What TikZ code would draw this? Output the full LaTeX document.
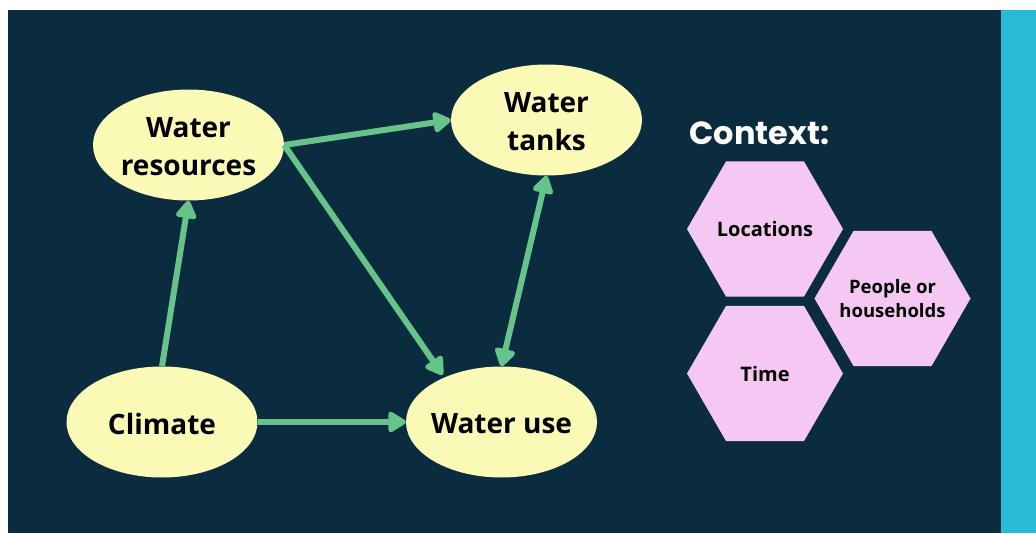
\documentclass[tikz,border=0pt]{standalone}
\usepackage{fontspec}
\setmainfont{Open Sans}
\newfontfamily\ctxfont{Poppins}
\usetikzlibrary{arrows.meta,shapes.geometric}
\definecolor{navy}{HTML}{0B2C3E}
\definecolor{cyanbar}{HTML}{29BBD6}
\definecolor{paleyellow}{HTML}{FAF9B5}
\definecolor{pinkhex}{HTML}{F4C8F2}
\definecolor{arrowgreen}{HTML}{66C38A}
\tikzset{
  topic/.style={ellipse, fill=paleyellow, minimum width=191pt, minimum height=111pt,
    inner sep=0pt},
  topictext/.style={align=center, text=black, inner sep=0pt, yshift=-2pt, font=\fontsize{28}{38}\selectfont\bfseries},
  ctxhex/.style={regular polygon, regular polygon sides=6, fill=pinkhex, minimum size=156pt,
    inner sep=0pt},
  hextext/.style={align=center, text=black, inner sep=0pt},
  link/.style={arrowgreen, line width=6pt, -{Triangle[length=20pt,width=23pt,round]}},
  biglink/.style={arrowgreen, line width=6pt, {Triangle[length=20pt,width=23pt,round]}-{Triangle[length=20pt,width=23pt,round]}}
}
\begin{document}
\begin{tikzpicture}[x=1pt,y=-1pt]
\useasboundingbox (0,0) rectangle (1036,533);
\fill[white] (0,0) rectangle (1036,533);
\fill[navy] (8,10) rectangle (1001,533);
\fill[cyanbar] (1001,10) rectangle (1036,533);

\node[topic] (wr) at (188.5,145) {};
\node[topic] (wt) at (546.5,120) {};
\node[topic] (cl) at (162,422) {};
\node[topic] (wu) at (501.5,422) {};
\node[topictext] (wrt) at (wr) {Water\\resources};
\node[topictext] (wtt) at (wt) {Water\\tanks};
\node[topictext] (clt) at (cl) {Climate};
\node[topictext] (wut) at (wu) {Water use};

\draw[link] (cl.north) -- (wr.south);
\draw[link] (wr.east) -- (wt.west);
\draw[link, shorten >=3pt] (wr.east) -- (wu.142);
\draw[biglink] (wt.south) -- (wu.north);
\draw[link] (cl.east) -- (wu.west);

\node[anchor=base west, text=white, font=\ctxfont\fontsize{32}{38}\selectfont\bfseries] (ctx) at (686,144) {Context:};

\node[ctxhex] (loc) at (765,229) {};
\node[ctxhex] (time) at (765,373.5) {};
\node[ctxhex] (ppl) at (892.5,298.5) {};
\node[hextext, font=\fontsize{20}{24}\selectfont\bfseries] (loct) at (loc) {Locations};
\node[hextext, font=\fontsize{20}{24}\selectfont\bfseries] (timet) at (time) {Time};
\node[hextext, font=\fontsize{18.5}{24}\selectfont\bfseries] (pplt) at (ppl) {People or\\households};
\end{tikzpicture}
\end{document}
